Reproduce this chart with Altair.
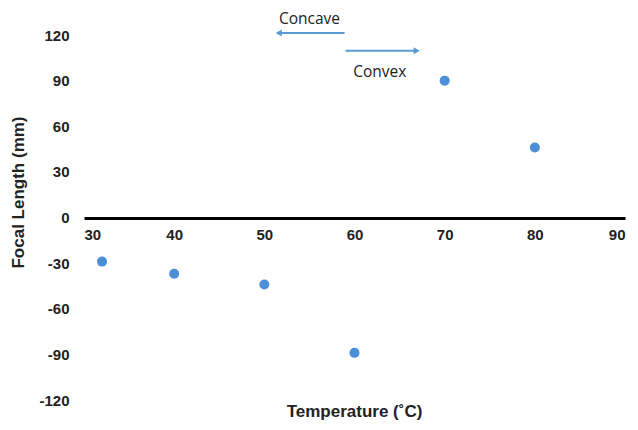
import altair as alt
import pandas as pd

temps = [32, 40, 50, 60, 70, 80]
focal = [-29, -37, -44, -89, 90, 46]

ann_labels = ["Concave", "Convex"]
ann_text_x = [55.0, 62.8]
ann_text_y = [130.8, 95.5]
arrow_x_start = [58.9, 59.0]
arrow_x_end = [51.6, 66.9]
arrow_y = [121.3, 109.6]
arrow_shape = ["triangle-left", "triangle-right"]

pts = pd.DataFrame({"t": temps, "f": focal})
arr = pd.DataFrame({"x1": arrow_x_start, "x2": arrow_x_end, "y": arrow_y, "shape": arrow_shape})
txt = pd.DataFrame({"x": ann_text_x, "y": ann_text_y, "label": ann_labels})

FONT = "Liberation Sans"
xs = alt.Scale(domain=[30, 90], nice=False)
ys = alt.Scale(domain=[-120, 120], nice=False)

points = alt.Chart(pts).mark_circle(size=100, color="#4a8fd8", opacity=1).encode(
    x=alt.X("t:Q", scale=xs, axis=alt.Axis(
        values=[30, 40, 50, 60, 70, 80, 90], domain=True, domainColor="black", domainWidth=3,
        ticks=False, grid=False, offset=-182, labelPadding=9, title=None,
        labelFont=FONT, labelFontSize=15, labelFontWeight="bold", labelColor="#222")),
    y=alt.Y("f:Q", scale=ys, axis=alt.Axis(
        values=[-120, -90, -60, -30, 0, 30, 60, 90, 120], domain=False, ticks=False, grid=False,
        labelExpr="'' + datum.value",
        labelPadding=15, title="Focal Length  (mm)", titleFont=FONT, titleFontSize=17,
        titleFontWeight="bold", titleColor="#222", titleX=-66, titleY=157,
        titleAngle=-90, titleAlign="center", titleBaseline="middle",
        labelFont=FONT, labelFontSize=15, labelFontWeight="bold", labelColor="#222")),
)

rules = alt.Chart(arr).mark_rule(color="#5b9bd5", strokeWidth=2, clip=False).encode(
    x=alt.X("x1:Q", scale=xs), x2="x2:Q", y=alt.Y("y:Q", scale=ys)
)
heads = alt.Chart(arr).mark_point(filled=True, color="#5b9bd5", size=50, opacity=1, clip=False).encode(
    x=alt.X("x2:Q", scale=xs), y=alt.Y("y:Q", scale=ys),
    shape=alt.Shape("shape:N", scale=None, legend=None)
)
labels = alt.Chart(txt).mark_text(font="Open Sans", fontSize=15.5, color="#222", clip=False).encode(
    x=alt.X("x:Q", scale=xs), y=alt.Y("y:Q", scale=ys), text="label:N"
)

chart = alt.layer(points, rules, heads, labels).properties(
    width=541, height=365,
    autosize=alt.AutoSizeParams(type="none"),
    padding={"left": 76, "top": 27, "right": 5, "bottom": 30},
    title=alt.TitleParams("Temperature (˚C)", orient="bottom", offset=-4,
                          font=FONT, fontSize=17, fontWeight="bold", color="#222"),
).configure_view(stroke=None)

chart.save("out.html", embed_options={"renderer": "svg", "actions": False})
